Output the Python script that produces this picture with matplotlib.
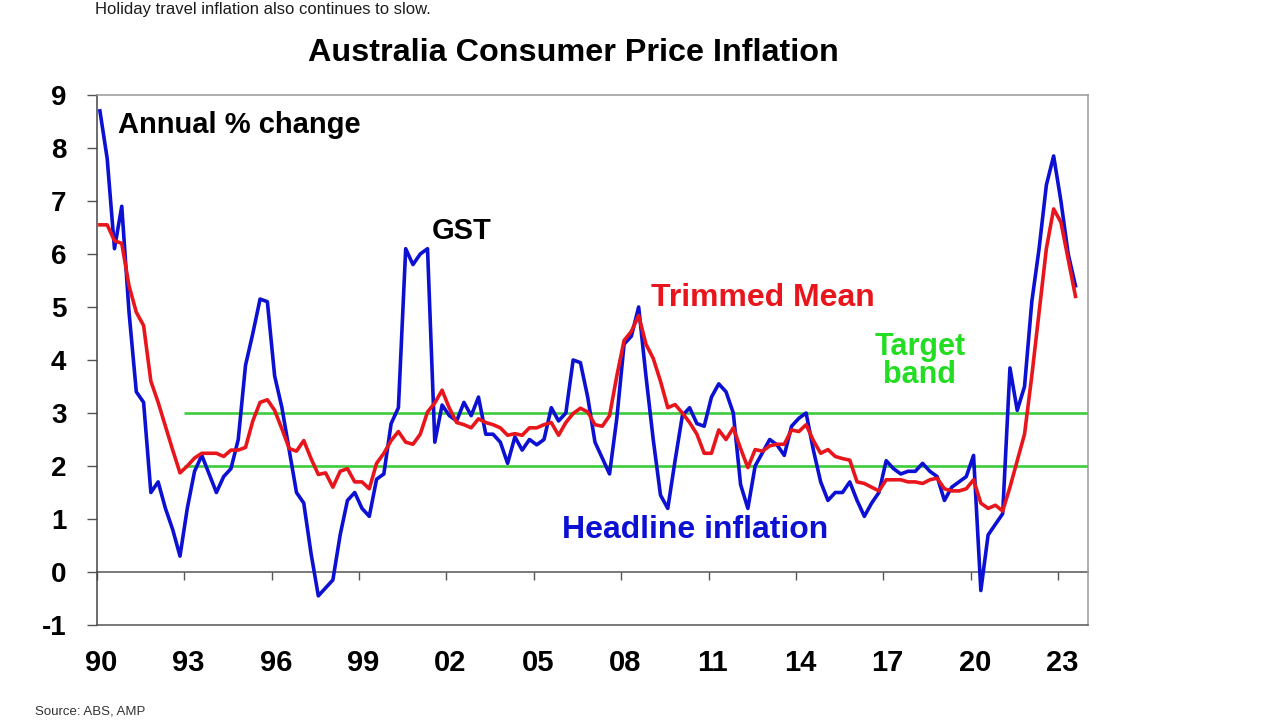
import numpy as np
import matplotlib

matplotlib.use("Agg")
import matplotlib.pyplot as plt

plt.rcParams["font.family"] = ["Liberation Sans", "DejaVu Sans"]
plt.rcParams["axes.unicode_minus"] = False

# quarterly annual % change, Mar-1990 .. Sep-2023
headline = [
    8.7, 7.8, 6.1, 6.9,
    4.9, 3.4, 3.2, 1.5,
    1.7, 1.2, 0.8, 0.3,
    1.2, 1.9, 2.2, 1.85,
    1.5, 1.8, 1.95, 2.5,
    3.9, 4.5, 5.15, 5.1,
    3.7, 3.1, 2.3, 1.5,
    1.3, 0.35, -0.45, -0.3,
    -0.15, 0.7, 1.35, 1.5,
    1.2, 1.05, 1.75, 1.85,
    2.8, 3.1, 6.1, 5.8,
    6.0, 6.1, 2.45, 3.15,
    2.95, 2.85, 3.2, 2.95,
    3.3, 2.6, 2.6, 2.45,
    2.05, 2.55, 2.3, 2.5,
    2.4, 2.5, 3.1, 2.85,
    3.0, 4.0, 3.95, 3.3,
    2.45, 2.15, 1.85, 2.9,
    4.3, 4.45, 5.0, 3.7,
    2.5, 1.45, 1.2, 2.1,
    2.95, 3.1, 2.8, 2.75,
    3.3, 3.55, 3.4, 3.0,
    1.65, 1.2, 2.0, 2.25,
    2.5, 2.4, 2.2, 2.75,
    2.9, 3.0, 2.3, 1.7,
    1.35, 1.5, 1.5, 1.7,
    1.35, 1.05, 1.3, 1.5,
    2.1, 1.95, 1.85, 1.9,
    1.9, 2.05, 1.9, 1.8,
    1.35, 1.6, 1.7, 1.8,
    2.2, -0.35, 0.7, 0.9,
    1.1, 3.85, 3.05, 3.5,
    5.1, 6.1, 7.3, 7.85,
    7.0, 6.0, 5.4,
]

trimmed_mean = [
    6.55, 6.55, 6.25, 6.2,
    5.4, 4.9, 4.65, 3.6,
    3.2, 2.75, 2.3, 1.87,
    2.0, 2.15, 2.24, 2.24,
    2.24, 2.18, 2.3, 2.3,
    2.35, 2.85, 3.2, 3.25,
    3.05, 2.7, 2.33, 2.28,
    2.48, 2.14, 1.84, 1.87,
    1.6, 1.9, 1.95, 1.7,
    1.7, 1.57, 2.05, 2.24,
    2.48, 2.65, 2.45, 2.41,
    2.6, 3.02, 3.19, 3.43,
    3.09, 2.82, 2.78, 2.72,
    2.89, 2.82, 2.78, 2.72,
    2.58, 2.61, 2.58, 2.72,
    2.72, 2.78, 2.82, 2.58,
    2.82, 2.99, 3.09, 3.02,
    2.78, 2.75, 2.95, 3.7,
    4.37, 4.54, 4.84, 4.3,
    4.03, 3.6, 3.1, 3.16,
    3.0, 2.82, 2.6, 2.24,
    2.24, 2.68, 2.5, 2.72,
    2.33, 1.97, 2.31, 2.28,
    2.38, 2.41, 2.41, 2.68,
    2.65, 2.78, 2.48, 2.24,
    2.31, 2.18, 2.14, 2.11,
    1.7, 1.67, 1.6, 1.53,
    1.74, 1.74, 1.74, 1.7,
    1.7, 1.67, 1.74, 1.77,
    1.57, 1.53, 1.53, 1.57,
    1.74, 1.3, 1.2, 1.26,
    1.15, 1.6, 2.1, 2.6,
    3.7, 4.9, 6.1, 6.85,
    6.6, 5.9, 5.2,
]

target_band = [2, 3]
band_start = 1993
tick_years = list(range(1990, 2024, 3))
tick_labels = [f"{y % 100:02d}" for y in tick_years]

BLUE = "#0c10d2"
RED = "#e8161c"
GREEN = "#3ccc3c"
GREEN_TXT = "#22dd22"

quarters = 1990.1 + 0.25 * np.arange(len(headline))

fig = plt.figure(figsize=(12.8, 7.2), dpi=100)
ax = fig.add_axes([97 / 1280, 95 / 720, 991 / 1280, 530 / 720])

for level in target_band:
    ax.hlines(level, band_start, 2024.03, color=GREEN, linewidth=1.9, zorder=1)

ax.plot(quarters, headline, color=BLUE, linewidth=2.6, zorder=3)
ax.plot(quarters, trimmed_mean, color=RED, linewidth=2.6, zorder=4)

ax.set_xlim(1990, 2024.03)
ax.set_ylim(-1, 9)
ax.set_yticks(range(-1, 10))
ax.tick_params(axis="y", direction="out", length=7, width=1, color="#555555",
               pad=15, labelsize=20)
for lab in ax.get_yticklabels():
    lab.set_fontweight("bold")

ax.set_xticks([y + 0.14 for y in tick_years])
ax.set_xticklabels(tick_labels, fontsize=21, fontweight="bold")
ax.tick_params(axis="x", length=0, pad=17)

# zero line carrying the year ticks
zero_axis = ax.secondary_xaxis(0.1)
zero_axis.set_xticks(tick_years)
zero_axis.tick_params(axis="x", direction="out", length=6, width=1,
                      color="#555555", labelbottom=False)
zero_axis.spines["bottom"].set_color("#555555")
zero_axis.spines["bottom"].set_linewidth(1.1)

ax.spines["left"].set_color("#444444")
ax.spines["bottom"].set_color("#555555")
ax.spines["top"].set_color("#999999")
ax.spines["right"].set_color("#999999")
for sp in ax.spines.values():
    sp.set_linewidth(1.1)

ax.text(1990.72, 8.43, "Annual % change", fontsize=21, fontweight="bold",
        ha="left", va="center")
ax.text(2001.5, 6.43, "GST", fontsize=21, fontweight="bold", ha="left", va="center")
ax.text(2009.02, 5.17, "Trimmed Mean", fontsize=23, fontweight="bold", color=RED,
        ha="left", va="center")
ax.text(2018.26, 3.98, "Target\nband", fontsize=22, fontweight="bold",
        color=GREEN_TXT, ha="center", va="center", linespacing=0.88)
ax.text(2005.97, 0.79, "Headline inflation", fontsize=23, fontweight="bold",
        color=BLUE, ha="left", va="center")

fig.text(573 / 1280, 1 - 53 / 720, "Australia Consumer Price Inflation",
         fontsize=23.3, fontweight="bold", ha="center", va="center")
fig.text(95 / 1280, 1 - 2 / 720, "Holiday travel inflation also continues to slow.",
         fontsize=12, color="#1c1c1c", ha="left", va="top")
fig.text(35 / 1280, 1 - 711 / 720, "Source: ABS, AMP", fontsize=9.5,
         color="#333333", ha="left", va="center")

fig.savefig("out.png", dpi=100)
plt.close(fig)
